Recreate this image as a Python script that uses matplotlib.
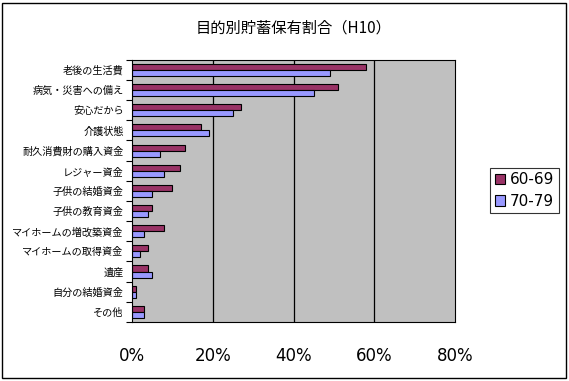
import matplotlib
matplotlib.use('Agg')
import matplotlib.pyplot as plt
import numpy as np
from matplotlib.ticker import FixedLocator

plt.rcParams['font.family'] = ['Noto Sans CJK JP', 'DejaVu Sans']

categories = ['老後の生活費', '病気・災害への備え', '安心だから', '介護状態', '耐久消費財の購入資金',
              'レジャー資金', '子供の結婚資金', '子供の教育資金', 'マイホームの増改築資金',
              'マイホームの取得資金', '遺産', '自分の結婚資金', 'その他']
age_60_69 = [58, 51, 27, 17, 13, 12, 10, 5, 8, 4, 4, 1, 3]
age_70_79 = [49, 45, 25, 19, 7, 8, 5, 4, 3, 2, 5, 1, 3]
xticks = [0, 20, 40, 60, 80]

fig = plt.figure(figsize=(5.69, 3.81), dpi=100)
ax = fig.add_axes([0.232, 0.155, 0.568, 0.688])

n = len(categories)
y = np.arange(n)
h = 0.3
ax.barh(y - h / 2, age_60_69, height=h, color='#993366', edgecolor='black', linewidth=0.8, label='60-69')
ax.barh(y + h / 2, age_70_79, height=h, color='#9999ff', edgecolor='black', linewidth=0.8, label='70-79')

ax.set_facecolor('#c0c0c0')
ax.set_xlim(0, 80)
ax.set_ylim(n - 0.5, -0.5)
ax.set_xticks(xticks)
ax.set_xticklabels([f'{v}%' for v in xticks], fontsize=12, family='DejaVu Sans')
ax.tick_params(axis='x', length=0, pad=18)
for v in xticks[1:-1]:
    ax.axvline(v, color='black', linewidth=0.9, zorder=0.5)

ax.set_yticks(y)
ax.set_yticklabels(categories, fontsize=7.3)
ax.tick_params(axis='y', length=0, pad=6)
ax.yaxis.set_minor_locator(FixedLocator(np.arange(-0.5, n, 1)))
ax.tick_params(axis='y', which='minor', length=4, direction='out', width=0.8)
for s in ax.spines.values():
    s.set_linewidth(0.8)

ax.set_title('目的別貯蓄保有割合（H10）', fontsize=11, pad=20)

leg = fig.legend(loc='center left', bbox_to_anchor=(0.848, 0.5), frameon=True,
                 fancybox=False, edgecolor='black', handlelength=0.7, handleheight=0.7,
                 handletextpad=0.3, borderpad=0.3, labelspacing=0.4, prop={'family': 'DejaVu Sans', 'size': 11})
leg.get_frame().set_linewidth(0.8)

fig.patches.append(plt.Rectangle((0.004, 0.008), 0.99, 0.985, transform=fig.transFigure,
                                 fill=False, edgecolor='black', linewidth=1))

fig.savefig('out.png', dpi=100)
